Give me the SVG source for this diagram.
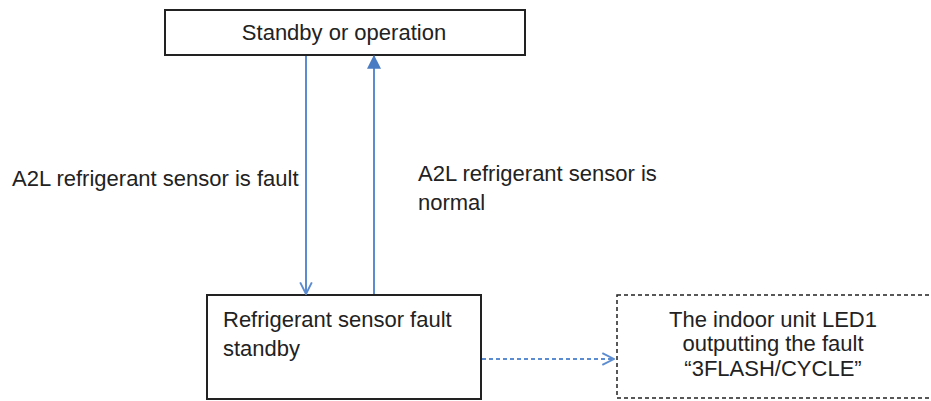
<svg xmlns="http://www.w3.org/2000/svg" width="931" height="401" viewBox="0 0 931 401">
<style>
text{font-family:"Liberation Sans",Arial,sans-serif;font-size:22px;fill:#222}
.box{fill:#fff;stroke:#222;stroke-width:2}
.dbox{fill:#fff;stroke:#222;stroke-width:1.5;stroke-dasharray:4 3}
.ln{stroke:#5b8bd0;stroke-width:2;fill:none}
.dln{stroke:#5b8bd0;stroke-width:2;fill:none;stroke-dasharray:4 3}
</style>
<defs>
<marker id="open" viewBox="0 0 12 12" refX="11" refY="6" markerWidth="14" markerHeight="14" markerUnits="userSpaceOnUse" orient="auto">
<path d="M1,1 L11,6 L1,11" fill="none" stroke="#5b8bd0" stroke-width="1.6"/>
</marker>
<marker id="fill" viewBox="0 0 12 12" refX="11" refY="6" markerWidth="14" markerHeight="14" markerUnits="userSpaceOnUse" orient="auto">
<path d="M0,0 L12,6 L0,12 Z" fill="#4a7cc4"/>
</marker>
</defs>
<g id="n-standby">
<rect class="box" x="165" y="10" width="360" height="45"/>
<text x="344" y="40" text-anchor="middle">Standby or operation</text>
</g>
<g id="n-fault">
<rect class="box" x="207" y="295" width="274" height="104"/>
<text x="223" y="327">Refrigerant sensor fault</text>
<text x="223" y="356">standby</text>
</g>
<g id="n-led">
<rect class="dbox" x="617" y="295" width="318" height="103"/>
<text x="773" y="327" text-anchor="middle">The indoor unit LED1</text>
<text x="773" y="351" text-anchor="middle">outputting the fault</text>
<text x="773" y="376" text-anchor="middle">“3FLASH/CYCLE”</text>
</g>
<g id="connectors">
<line class="ln" x1="306" y1="56" x2="306" y2="294" marker-end="url(#open)"/>
<line class="ln" x1="374" y1="294" x2="374" y2="56" marker-end="url(#fill)"/>
<line class="dln" x1="482" y1="359" x2="614" y2="359" marker-end="url(#open)"/>
<text x="12" y="186">A2L refrigerant sensor is fault</text>
<text x="418" y="181">A2L refrigerant sensor is</text>
<text x="418" y="210">normal</text>
</g>
</svg>
